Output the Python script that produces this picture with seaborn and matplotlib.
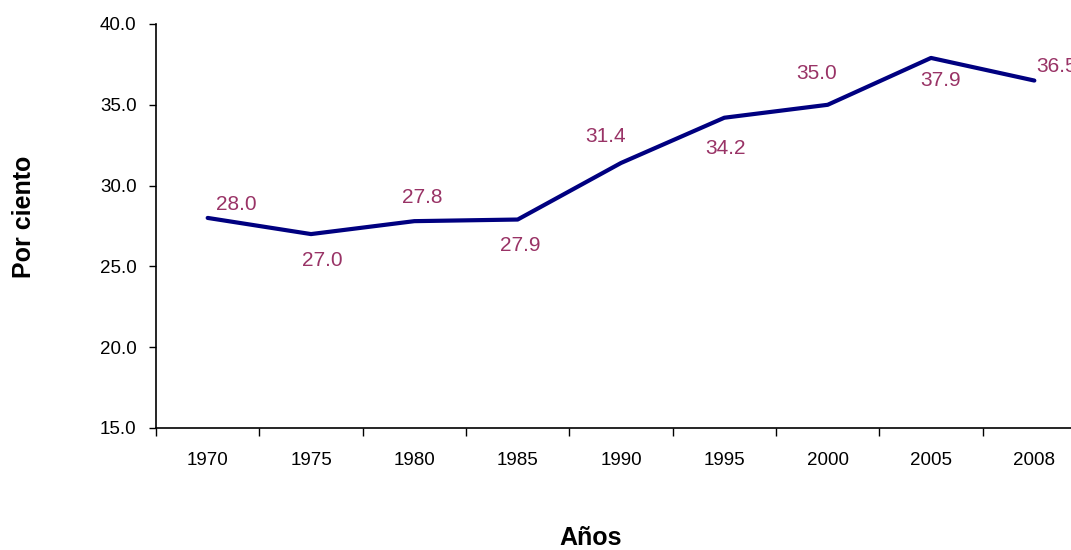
import numpy as np
import pandas as pd
import matplotlib
matplotlib.use("Agg")
import matplotlib.pyplot as plt
import seaborn as sns

# Datos
anios = ["1970", "1975", "1980", "1985", "1990", "1995", "2000", "2005", "2008"]
valores = [28.0, 27.0, 27.8, 27.9, 31.4, 34.2, 35.0, 37.9, 36.5]
etiquetas = ["28.0", "27.0", "27.8", "27.9", "31.4", "34.2", "35.0", "37.9", "36.5"]
# desplazamiento de cada etiqueta en píxeles (dx, dy hacia arriba)
desplaz = [(29, 13), (11, -26), (8, 24), (3, -26), (-15, 26), (1, -31), (-11, 31), (10, -23), (22, 14)]

sns.set_style("ticks")
plt.rcParams['font.family'] = ['Liberation Sans', 'DejaVu Sans']
plt.rcParams['text.color'] = 'black'
plt.rcParams['xtick.color'] = 'black'
plt.rcParams['ytick.color'] = 'black'

df = pd.DataFrame({"anio": anios, "valor": valores})

fig = plt.figure(figsize=(10.71, 5.5), dpi=100)
ax = fig.add_axes([156 / 1071, 122 / 550, 930 / 1071, 404 / 550])

sns.lineplot(data=df, x="anio", y="valor", ax=ax, color="#000080", linewidth=3.0,
             sort=False)

for i, (v, lab, (dx, dy)) in enumerate(zip(valores, etiquetas, desplaz)):
    ax.annotate(lab, (i, v), xytext=(dx * 0.72, dy * 0.72), textcoords="offset points",
                ha="center", va="center", fontsize=15, color="#993366")

ax.set_xlim(-0.5, len(anios) - 0.5)
ax.set_ylim(15, 40)
ax.set_yticks(np.arange(15, 41, 5))
ax.set_yticklabels([f"{t:.1f}" for t in np.arange(15, 41, 5)], fontsize=13.5)
ax.set_xticks(range(len(anios)))
ax.set_xticklabels(anios, fontsize=13.5)
ax.set_xticks(np.arange(-0.5, len(anios), 1), minor=True)
ax.tick_params(axis="x", which="major", length=0, pad=17)
ax.tick_params(axis="x", which="minor", length=5.5, width=1, direction="out")
ax.tick_params(axis="y", length=5, width=1, direction="out", pad=9)

for s in ["top", "right"]:
    ax.spines[s].set_visible(False)
for s in ["left", "bottom"]:
    ax.spines[s].set_linewidth(1.2)
    ax.spines[s].set_color("black")

ax.set_xlabel("")
ax.set_ylabel("")
fig.text(591 / 1071, 1 - 538 / 550, "Años", ha="center", va="center",
         fontsize=18, fontweight="bold")
fig.text(24 / 1071, 1 - 217 / 550, "Por ciento", ha="center", va="center",
         rotation=90, fontsize=18, fontweight="bold")

fig.savefig("out.png", dpi=100)
